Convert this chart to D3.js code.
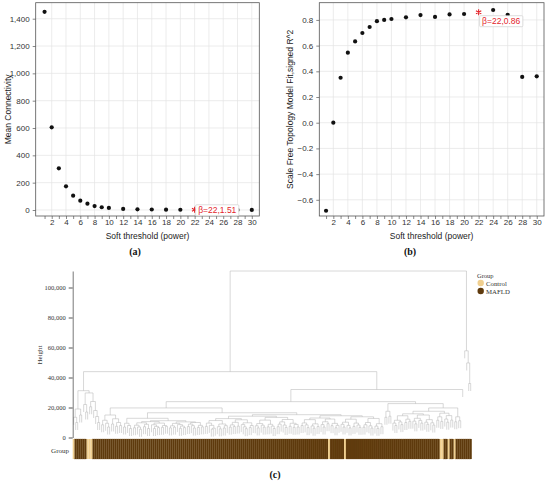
<!DOCTYPE html>
<html>
<head>
<meta charset="utf-8">
<script src="https://cdn.jsdelivr.net/npm/d3@7"></script>
<style>
  body { margin: 0; background: #fff; }
  svg text { font-family: "Liberation Sans", Arial, sans-serif; }
  .serif text, text.serif { font-family: "Liberation Serif", "Times New Roman", serif; }
</style>
</head>
<body>
<svg id="fig" width="550" height="484"></svg>
<script>
// ---- data: soft threshold scan ----
const powers = [1, 2, 3, 4, 5, 6, 7, 8, 9, 10, 12, 14, 16, 18, 20, 22, 24, 26, 28, 30];
const meanConnectivity = [1450, 605, 305, 173, 105, 68, 46, 29, 20, 15, 8, 5, 3.5, 2.5, 2, 1.51, 1.2, 1, 0.8, 0.6];
const scaleFreeR2 = [-0.685, 0.0, 0.35, 0.545, 0.633, 0.698, 0.745, 0.79, 0.80, 0.807,
                     0.82, 0.838, 0.823, 0.843, 0.846, 0.86, 0.877, 0.84, 0.356, 0.361];
const chosenPower = 22;
const xTickLabels = [2, 4, 6, 8, 10, 12, 14, 16, 18, 20, 22, 24, 26, 28, 30];
const connTicks = [0, 200, 400, 600, 800, 1000, 1200, 1400];
const r2Ticks = [-0.6, -0.4, -0.2, 0.0, 0.2, 0.4, 0.6, 0.8];

// ---- data: sample dendrogram (height in thousands; leaf 0 = MAFLD, 1 = Control) ----
const groupNames = ["MAFLD", "Control"];
const groupColors = ["#5e3a0d", "#f0cf8f"];
const heightTicks = [0, 20000, 40000, 60000, 80000, 100000];

const clusterA = [31.2,
  [19, [13.5, 1, [10, 0, 0]], [15, 0, 0]],
  [29.7, [22, 0, [17, 0, 1]], [24, [20.5, 1, 1], [18, 0, [14, 0, [10, 0, 0]]]]]];
const clusterB1 = [15, [11.5, [8.5, 0, 0], [9.5, 0, [7, 0, 0]]], [12.5, [9, 0, 0], [10, [7.5, 0, 0], [8, 0, 0]]]];
const clusterB2L = [12.8,
  [9.5, [7, 0, 0], [8, 0, [6, 0, 0]]],
  [11.2,
    [10.6,
      [9.8, [8.2, [6.5, 0, 0], [7, 0, [5.5, 0, 0]]], [8.8, [7.2, 0, 0], [6, 0, 0]]],
      [9.6, [8.5, 0, [7.4, [6, 0, 0], [6.6, 0, 0]]], [8, [6.8, 0, 0], [7.5, 0, 0]]]],
    [10.4,
      [9.4, [7.8, [6.4, 0, 0], [6.9, 0, 0]], [8.6, 0, [7.6, [6.1, 0, 0], [6.6, 0, 0]]]],
      [10, [8.9, [7.3, 0, 0], [7.9, 0, [6.3, 0, 0]]], [8.1, [6.7, 0, 0], [7.1, 0, 0]]]]]];
const clusterD1 = [12.6,
  [11.3, [9.6, [7.4, 0, 0], [8.1, 0, [6.2, [5.6, 0, 0], 0]]], [9, [7.2, 0, [5.8, 0, 0]], [7.9, [6.3, 0, 0], 0]]],
  [11.8, [10.1, [8.4, [6.9, 0, 0], [7.3, 0, 0]], [7.6, 0, 0]], [9.8, [8.6, 0, [7.1, 0, [5.9, 0, 0]]], [8, [6.6, 0, 0], 0]]]];
const clusterD2 = [13.4,
  [11.6, [9.3, [7.8, 0, [6.4, 0, 0]], [8.2, 0, [6.9, 0, 0]]], [8.8, [7.1, 0, 0], [7.6, 0, [6, 0, 0]]]],
  [12, [10.4, [8.9, [7.2, 0, 0], 0], [8.3, 0, [6.7, 0, 0]]], [9.5, [7.5, 0, 0], [8.7, [6.8, 0, 0], [7, 0, 0]]]]];
const clusterD3 = [13,
  [11.9, [9.7, [8, 0, 0], [8.4, 0, [6.6, 0, 0]]], [9.1, [7.7, 0, [6.2, 0, 0]], [7.3, 0, 0]]],
  [12.3, [10.5, [8.6, 0, [7, 0, 0]], [9.2, 0, 1]], [9.4, [7.9, 0, 0], [8.1, [6.5, 0, 0], 0]]]];
const clusterD4 = [13.8,
  [12.2, [10.2, [8.8, 0, [7, 0, 1]], [8.1, 0, [6.4, 0, 0]]], [9.6, [7.4, 0, 0], [8.3, 0, [6.8, 0, 0]]]],
  [12.7, [10, [8.5, [6.9, 0, 0], 0], [7.8, 0, [6.3, 0, 0]]], [9.2, [7.6, 0, [6.1, 0, 0]], [7.2, 0, 0]]]];
const clusterE = [17.5, [13.5, 0, 0], [14.2, 0, 0]];
const clusterC1 = [17.5,
  [15.8,
    [14.5, [11.5, [9.6, 0, [8, 0, 0]], [10.4, 0, [8.6, 0, 0]]], [12.2, [10, 0, 0], [10.8, 0, 0]]],
    [15, [12.8, [10.9, 0, [9.1, 0, 0]], [11.4, 0, [9.6, 0, 0]]], [11.9, [10.2, 0, [8.8, 0, 0]], [9.8, 0, [8.3, 0, 0]]]]],
  [16.2, [13.8, [11.5, 0, 0], [10.7, 1, 1]], [14.6, [12.3, 0, [10.2, 0, 1]], [11.6, 0, 0]]]];
const clusterC2 = [13.8, [10.5, 1, 0], [11.2, 0, 0]];
const clusterOutliers = [57.8, 0, [49.7, 0, [36, 0, 0]]];

const tree = [111,
  [43.9, clusterA,
    [32,
      [23.9,
        [19.7, clusterB1, [16.5, clusterB2L, [15.2, [14.2, clusterD1, clusterD2], [14.5, clusterD3, clusterD4]]]],
        [22.6, clusterE, [19.7, clusterC1, clusterC2]]],
      0]],
  clusterOutliers];

const svg = d3.select("#fig");
svg.append("rect").attr("width", 550).attr("height", 484).attr("fill", "#fff");

// ---------- scatter panels (a) and (b) ----------
function scatterPanel(o) {
  const g = svg.append("g");
  const [yB, yT] = o.y.range();
  const [xL, xR] = o.x.range();

  g.selectAll(".vgrid").data(xTickLabels).join("line")
    .attr("x1", d => o.x(d)).attr("x2", d => o.x(d))
    .attr("y1", yB).attr("y2", yT)
    .attr("stroke", "#e4e4e4").attr("stroke-width", 0.7);
  g.selectAll(".hgrid").data(o.yTicks).join("line")
    .attr("x1", xL).attr("x2", xR)
    .attr("y1", d => o.y(d)).attr("y2", d => o.y(d))
    .attr("stroke", "#e4e4e4").attr("stroke-width", 0.7);

  const xa = g.append("g").attr("transform", `translate(0,${yB})`)
    .call(d3.axisBottom(o.x).tickValues(d3.range(1, 31)).tickSize(3)
      .tickFormat(d => d % 2 === 0 ? d : ""));
  const ya = g.append("g").attr("transform", `translate(${xL},0)`)
    .call(d3.axisLeft(o.y).tickValues(o.yTicks).tickSize(3).tickFormat(o.yFmt));
  [xa, ya].forEach(a => {
    a.select(".domain").remove();
    a.selectAll("line").attr("stroke", "#555").attr("stroke-width", 0.7);
    a.selectAll("text").attr("fill", "#333").style("font-size", "8px");
  });
  xa.selectAll("text").filter(function () { return this.textContent === ""; }).remove();
  xa.selectAll("text").attr("y", 3.5);

  g.append("rect").attr("x", xL).attr("y", yT).attr("width", xR - xL).attr("height", yB - yT)
    .attr("fill", "none").attr("stroke", "#555").attr("stroke-width", 0.8);

  g.selectAll(".pt").data(powers.map((p, i) => [p, o.values[i]]).filter(d => d[0] !== chosenPower))
    .join("circle")
    .attr("cx", d => o.x(d[0])).attr("cy", d => o.y(d[1])).attr("r", 2.1).attr("fill", "#111");

  const selVal = o.values[powers.indexOf(chosenPower)];
  const sx = o.x(chosenPower), sy = o.y(selVal);
  const starType = d3.symbolAsterisk || d3.symbolCross;
  g.append("path").attr("transform", `translate(${sx},${sy})`)
    .attr("d", d3.symbol(starType, 26)())
    .attr("fill", d3.symbolAsterisk ? "none" : "#e3242b")
    .attr("stroke", "#e3242b").attr("stroke-width", 1.1);

  const lab = g.append("g").attr("transform", `translate(${sx + o.boxDx},${sy + o.boxDy})`);
  const box = lab.append("rect").attr("fill", "#fff").attr("stroke", "#cfcfcf").attr("stroke-width", 0.7)
    .attr("rx", 1);
  const t = lab.append("text").attr("x", 2.5).attr("y", 8.3).attr("fill", "#e3242b")
    .style("font-size", "8.5px").text(`β=${chosenPower},${o.selText}`);
  const w = t.node().getComputedTextLength();
  box.attr("width", w + 5).attr("height", 11);

  g.append("text").attr("x", (xL + xR) / 2).attr("y", 239).attr("text-anchor", "middle")
    .attr("fill", "#222").style("font-size", "8.5px").text("Soft threshold (power)");
  g.append("text").attr("transform", `translate(${o.titleX},${(yB + yT) / 2}) rotate(-90)`)
    .attr("text-anchor", "middle").attr("fill", "#222").style("font-size", "8.5px").text(o.yTitle);
}

scatterPanel({
  x: d3.scaleLinear([-0.24, 31.05], [35.7, 259.3]),
  y: d3.scaleLinear([-43.9, 1517], [216, 2.7]),
  values: meanConnectivity, yTicks: connTicks, yFmt: d3.format(","),
  yTitle: "Mean Connectivity", titleX: 11, selText: "1.51", boxDx: 1, boxDy: -5
});
scatterPanel({
  x: d3.scaleLinear([0.07, 31.0], [319.3, 544]),
  y: d3.scaleLinear([-0.726, 0.934], [216, 2.7]),
  values: scaleFreeR2, yTicks: r2Ticks, yFmt: d3.format(".1f"),
  yTitle: "Scale Free Topology Model Fit,signed R^2", titleX: 293, selText: "0.86", boxDx: 1, boxDy: 3.5
});

// ---------- dendrogram panel (c) ----------
function countLeaves(n) { return Array.isArray(n) ? countLeaves(n[1]) + countLeaves(n[2]) : 1; }
const nLeaves = countLeaves(tree);
const xLeaf = d3.scaleLinear([0, nLeaves], [72.7, 471.7]);
const yH = d3.scaleLinear([0, 111000], [437.5, 271]);
const hang = 5;

const leaves = [], segs = [];
function layout(n) {
  if (!Array.isArray(n)) {
    leaves.push(n);
    return { x: xLeaf(leaves.length - 0.5), leaf: true };
  }
  const a = layout(n[1]), b = layout(n[2]), h = n[0];
  [a, b].forEach(c => segs.push([c.x, h, c.x, c.leaf ? Math.max(h - hang, 0) : c.h]));
  segs.push([a.x, h, b.x, h]);
  return { x: (a.x + b.x) / 2, h };
}
layout(tree);

const gc = svg.append("g").attr("class", "serif");
gc.append("g").selectAll("line").data(segs).join("line")
  .attr("x1", d => d[0]).attr("x2", d => d[2])
  .attr("y1", d => yH(d[1] * 1000)).attr("y2", d => yH(d[3] * 1000))
  .attr("stroke", "#b8b8b8").attr("stroke-width", 0.55);

const yAxisC = gc.append("g").attr("transform", "translate(72.7,0)")
  .call(d3.axisLeft(yH).tickValues(heightTicks).tickSize(4).tickFormat(d3.format(",")).tickSizeOuter(0));
yAxisC.select(".domain").attr("stroke", "#555").attr("stroke-width", 0.8);
yAxisC.selectAll("line").attr("stroke", "#555");
yAxisC.selectAll("text").attr("fill", "#333").style("font-size", "6.5px")
  .style("font-family", '"Liberation Serif", serif');

gc.append("text").attr("transform", "translate(42,355) rotate(-90)").attr("text-anchor", "middle")
  .attr("fill", "#333").style("font-size", "7px").text("Height");

gc.append("g").selectAll("rect").data(leaves).join("rect")
  .attr("x", (d, i) => xLeaf(i)).attr("width", xLeaf(1) - xLeaf(0))
  .attr("y", 439).attr("height", 20)
  .attr("fill", d => groupColors[d])
  .attr("stroke", d => d === 0 ? "#6e4716" : "none").attr("stroke-width", 0.25);

gc.append("text").attr("x", 69).attr("y", 452.5).attr("text-anchor", "end")
  .attr("fill", "#333").style("font-size", "7px").text("Group");

// legend
const lg = gc.append("g").attr("transform", "translate(477,0)");
lg.append("text").attr("x", 0).attr("y", 278).attr("fill", "#333").style("font-size", "6.5px").text("Group");
[1, 0].forEach((k, i) => {
  lg.append("circle").attr("cx", 3.7).attr("cy", 283 + i * 8).attr("r", 3.2).attr("fill", groupColors[k]);
  lg.append("text").attr("x", 9).attr("y", 285.5 + i * 8).attr("fill", "#333")
    .style("font-size", "6.8px").text(groupNames[k]);
});

// panel captions
[["(a)", 135, 255], ["(b)", 410, 255], ["(c)", 275, 478]].forEach(([s, x, y]) => {
  svg.append("text").attr("class", "serif").attr("x", x).attr("y", y).attr("text-anchor", "middle")
    .attr("fill", "#111").style("font-size", "10px").style("font-weight", "bold").text(s);
});
</script>
</body>
</html>
